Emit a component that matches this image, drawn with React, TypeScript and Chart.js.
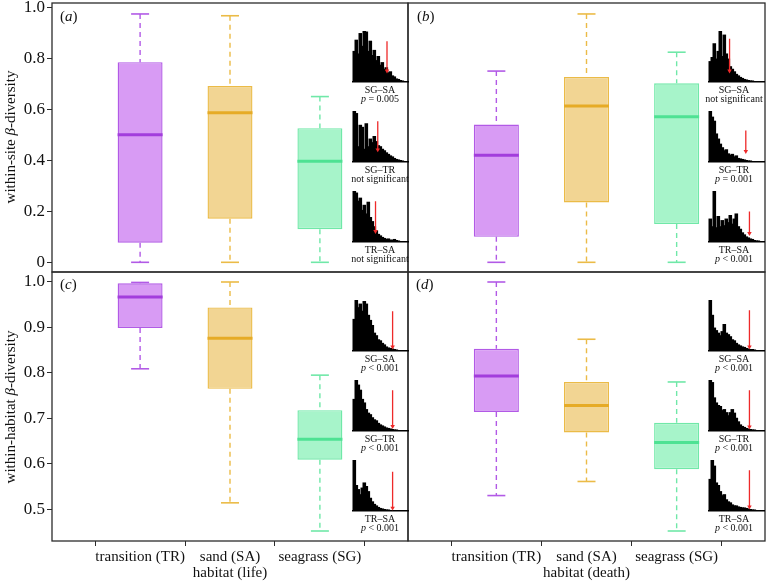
import React, { useEffect, useRef } from 'react';
import { Chart, registerables } from 'chart.js';

Chart.register(...registerables);

const SERIF = '"Liberation Serif", "Times New Roman", Times, serif';
Chart.defaults.font.family = SERIF;
Chart.defaults.color = '#111';

// ---------- data ----------
const categories = ['transition (TR)', 'sand (SA)', 'seagrass (SG)'];
const categoryPositions = [1, 2, 3];
const siteTicks = [0, 0.2, 0.4, 0.6, 0.8, 1.0];
const habitatTicks = [0.5, 0.6, 0.7, 0.8, 0.9, 1.0];

// (a) within-site, life
const siteLifeMin = [0, 0, 0];
const siteLifeQ1 = [0.077, 0.171, 0.13];
const siteLifeMed = [0.5, 0.587, 0.396];
const siteLifeQ3 = [0.785, 0.691, 0.526];
const siteLifeMax = [0.974, 0.967, 0.65];

// (b) within-site, death
const siteDeathMin = [0, 0, 0];
const siteDeathQ1 = [0.1, 0.235, 0.15];
const siteDeathMed = [0.42, 0.613, 0.571];
const siteDeathQ3 = [0.54, 0.727, 0.702];
const siteDeathMax = [0.75, 0.974, 0.824];

// (c) within-habitat, life
const habLifeMin = [0.809, 0.514, 0.452];
const habLifeQ1 = [0.899, 0.765, 0.609];
const habLifeMed = [0.967, 0.876, 0.654];
const habLifeQ3 = [0.997, 0.944, 0.718];
const habLifeMax = [0.999, 1.0, 0.795];

// (d) within-habitat, death
const habDeathMin = [0.53, 0.561, 0.452];
const habDeathQ1 = [0.714, 0.669, 0.588];
const habDeathMed = [0.793, 0.728, 0.647];
const habDeathQ3 = [0.853, 0.78, 0.69];
const habDeathMax = [1.0, 0.874, 0.78];

// null-distribution histograms (relative counts) and observed values
const comparisons = ['SG–SA', 'SG–TR', 'TR–SA'];

const histA1 = [0.6, 0.82, 0.55, 0.95, 0.7, 1.0, 0.98, 0.6, 0.8, 0.52, 0.62, 0.42, 0.5, 0.33, 0.38, 0.25, 0.28, 0.18, 0.2, 0.12, 0.1, 0.06, 0.05, 0.03, 0.02, 0.01, 0.01, 0];
const histA2 = [1.0, 0.95, 0.3, 0.72, 0.68, 0.25, 0.75, 0.3, 0.45, 0.38, 0.5, 0.4, 0.32, 0.3, 0.25, 0.22, 0.18, 0.15, 0.12, 0.1, 0.07, 0.05, 0.04, 0.03, 0.02, 0.01, 0.01, 0];
const histA3 = [1.0, 0.96, 0.8, 0.86, 0.62, 0.72, 0.55, 0.78, 0.48, 0.4, 0.3, 0.22, 0.15, 0.12, 0.09, 0.07, 0.05, 0.06, 0.04, 0.03, 0.05, 0.03, 0.02, 0.01, 0.01, 0, 0, 0];
const histB1 = [0.4, 0.48, 0.75, 0.45, 0.6, 1.0, 0.5, 0.92, 0.55, 0.45, 0.3, 0.25, 0.2, 0.15, 0.12, 0.09, 0.07, 0.05, 0.04, 0.03, 0.02, 0.02, 0.01, 0.01, 0, 0, 0, 0];
const histB2 = [1.0, 0.88, 0.8, 0.55, 0.45, 0.35, 0.28, 0.22, 0.24, 0.16, 0.13, 0.15, 0.1, 0.12, 0.07, 0.06, 0.05, 0.04, 0.03, 0.02, 0.02, 0.01, 0.01, 0, 0, 0, 0, 0];
const histB3 = [0.45, 0.3, 1.0, 0.28, 0.5, 0.3, 0.42, 0.32, 0.45, 0.38, 0.52, 0.35, 0.45, 0.55, 0.3, 0.25, 0.18, 0.14, 0.1, 0.08, 0.06, 0.05, 0.03, 0.02, 0.02, 0.01, 0.01, 0];
const histC1 = [0.62, 1.0, 0.85, 0.92, 0.78, 0.97, 0.92, 0.7, 0.6, 0.5, 0.35, 0.3, 0.22, 0.2, 0.15, 0.12, 0.08, 0.06, 0.05, 0.04, 0.03, 0.02, 0.01, 0.01, 0, 0, 0, 0];
const histC2 = [0.62, 1.0, 0.9, 0.8, 0.62, 0.55, 0.42, 0.35, 0.32, 0.26, 0.22, 0.2, 0.15, 0.12, 0.1, 0.08, 0.06, 0.05, 0.04, 0.03, 0.02, 0.02, 0.01, 0.01, 0, 0, 0, 0];
const histC3 = [1.0, 0.5, 0.42, 0.32, 0.45, 0.55, 0.48, 0.38, 0.25, 0.18, 0.13, 0.1, 0.07, 0.05, 0.04, 0.03, 0.02, 0.02, 0.01, 0.01, 0.01, 0, 0, 0, 0, 0, 0, 0];
const histD1 = [1.0, 0.7, 0.45, 0.4, 0.35, 0.3, 0.38, 0.52, 0.35, 0.32, 0.28, 0.22, 0.2, 0.15, 0.12, 0.1, 0.08, 0.07, 0.05, 0.04, 0.03, 0.03, 0.02, 0.01, 0.01, 0, 0, 0];
const histD2 = [1.0, 0.95, 0.65, 0.55, 0.5, 0.48, 0.4, 0.42, 0.36, 0.3, 0.36, 0.42, 0.35, 0.25, 0.18, 0.12, 0.09, 0.07, 0.05, 0.04, 0.03, 0.02, 0.02, 0.01, 0.01, 0, 0, 0];
const histD3 = [0.62, 1.0, 0.88, 0.55, 0.5, 0.38, 0.3, 0.32, 0.22, 0.18, 0.16, 0.12, 0.1, 0.1, 0.08, 0.07, 0.06, 0.06, 0.05, 0.04, 0.03, 0.02, 0.02, 0.01, 0.01, 0, 0, 0];

const obsA = [0.75, 0.42, 0.34];
const obsB = [0.27, 0.85, 0.98];
const obsC = [0.95, 0.95, 0.95];
const obsD = [0.98, 0.98, 0.98];

const arrowTopA = [0.8, 0.8, 0.8];
const arrowTipA = [0.22, 0.24, 0.21];
const arrowTopB = [0.85, 0.62, 0.6];
const arrowTipB = [0.22, 0.21, 0.17];
const arrowTopC = [0.78, 0.8, 0.77];
const arrowTipC = [0.08, 0.09, 0.06];
const arrowTopD = [0.8, 0.8, 0.8];
const arrowTipD = [0.08, 0.08, 0.08];

const pLabelsA = ['p = 0.005', 'not significant', 'not significant'];
const pLabelsB = ['not significant', 'p = 0.001', 'p < 0.001'];
const pLabelsC = ['p < 0.001', 'p < 0.001', 'p < 0.001'];
const pLabelsD = ['p < 0.001', 'p < 0.001', 'p < 0.001'];

// ---------- styles ----------
const groupFill = ['#d89bf4', '#f2d593', '#a7f4ca'];
const groupLine = ['#b25ae6', '#ebbb47', '#70e8a8'];
const groupMedian = ['#a23ddc', '#e6ab26', '#4ee293'];
const ARROW_RED = '#ee2a2a';
const FRAME = '#2b2b2b';

type Stats = { min: number[]; q1: number[]; med: number[]; q3: number[]; max: number[] };

const framePlugin = {
  id: 'panelFrame',
  afterDraw(chart: any) {
    const { ctx, chartArea: a } = chart;
    ctx.save();
    ctx.strokeStyle = FRAME;
    ctx.lineWidth = 1.3;
    ctx.strokeRect(a.left, a.top, a.right - a.left, a.bottom - a.top);
    ctx.restore();
  },
};

const zeroPadding = (s: any) => {
  s.paddingTop = 0;
  s.paddingBottom = 0;
  s.paddingLeft = 0;
  s.paddingRight = 0;
};

type PanelProps = {
  stats: Stats;
  yMin: number;
  yMax: number;
  ticks: number[];
  showY: boolean;
  xTitle?: string;
  left: number;
  top: number;
  width: number;
  height: number;
  padding: { left: number; right: number; top: number; bottom: number };
  xHeight: number;
};

function BoxPanel(p: PanelProps) {
  const ref = useRef<HTMLCanvasElement | null>(null);
  useEffect(() => {
    const { stats } = p;
    const datasets: any[] = [];
    categoryPositions.forEach((x, i) => {
      datasets.push({
        type: 'line',
        data: [
          { x, y: stats.max[i] },
          { x, y: stats.q3[i] },
          { x, y: null },
          { x, y: stats.q1[i] },
          { x, y: stats.min[i] },
        ],
        borderColor: groupLine[i],
        borderWidth: 1.4,
        borderDash: [5, 4],
        pointRadius: 0,
        spanGaps: false,
        fill: false,
        order: 4,
      });
    });
    datasets.push({
      type: 'scatter',
      data: categoryPositions.flatMap((x, i) => [
        { x, y: stats.max[i] },
        { x, y: stats.min[i] },
      ]),
      pointStyle: 'line',
      pointRadius: 9,
      pointBorderWidth: 1.6,
      pointBorderColor: categoryPositions.flatMap((_, i) => [groupLine[i], groupLine[i]]),
      order: 3,
    });
    datasets.push({
      type: 'bar',
      data: categoryPositions.map((x, i) => ({ x, y: [stats.q1[i], stats.q3[i]] })),
      backgroundColor: groupFill,
      borderColor: groupLine,
      borderWidth: 1.4,
      borderSkipped: false,
      barPercentage: 0.5,
      categoryPercentage: 1,
      grouped: false,
      order: 2,
    });
    datasets.push({
      type: 'scatter',
      data: categoryPositions.map((x, i) => ({ x, y: stats.med[i] })),
      pointStyle: 'line',
      pointRadius: 22.5,
      pointBorderWidth: 3,
      pointBorderColor: groupMedian,
      order: 1,
    });

    const hasX = !!p.xTitle;
    const chart = new Chart(ref.current as HTMLCanvasElement, {
      type: 'scatter',
      data: { datasets },
      options: {
        animation: false,
        responsive: false,
        devicePixelRatio: 1,
        events: [],
        layout: { padding: p.padding, autoPadding: false },
        plugins: { legend: { display: false }, tooltip: { enabled: false } },
        scales: {
          x: {
            type: 'linear',
            min: 0.02,
            max: 3.98,
            offset: false,
            display: hasX,
            afterBuildTicks: (s: any) => {
              s.ticks = categoryPositions.map((v) => ({ value: v }));
            },
            afterFit: (s: any) => {
              if (hasX) s.height = p.xHeight;
              zeroPadding(s);
            },
            grid: { display: true, drawOnChartArea: false, drawTicks: true, tickLength: 5, color: FRAME },
            border: { display: false },
            ticks: {
              autoSkip: false,
              maxRotation: 0,
              minRotation: 0,
              padding: 2,
              font: { size: 15 },
              color: '#111',
              callback: (v: any) => categories[categoryPositions.indexOf(Number(v))],
            },
            title: { display: hasX, text: p.xTitle || '', font: { size: 15 }, color: '#111', padding: 0 },
          },
          y: {
            type: 'linear',
            min: p.yMin,
            max: p.yMax,
            display: p.showY,
            afterBuildTicks: (s: any) => {
              s.ticks = p.ticks.map((v) => ({ value: v }));
            },
            afterFit: (s: any) => {
              if (p.showY) s.width = 52;
              zeroPadding(s);
            },
            grid: { display: true, drawOnChartArea: false, drawTicks: true, tickLength: 5, color: FRAME },
            border: { display: false },
            ticks: {
              padding: 2,
              font: { size: 17 },
              color: '#111',
              callback: (v: any) => (Number(v) === 0 ? '0' : Number(v).toFixed(1)),
            },
          },
        },
      } as any,
      plugins: [framePlugin],
    });
    return () => chart.destroy();
  }, []);
  return (
    <canvas
      ref={ref}
      width={p.width}
      height={p.height}
      style={{ position: 'absolute', left: p.left, top: p.top, width: p.width, height: p.height }}
    />
  );
}

type InsetProps = {
  hist: number[];
  obs: number;
  arrowTop: number;
  arrowTip: number;
  left: number;
  baseline: number;
};

const INSET_W = 56;
const INSET_H = 51;

function Inset(p: InsetProps) {
  const ref = useRef<HTMLCanvasElement | null>(null);
  useEffect(() => {
    const chart = new Chart(ref.current as HTMLCanvasElement, {
      type: 'bar',
      data: {
        labels: p.hist.map((_, i) => String(i)),
        datasets: [
          {
            type: 'line',
            xAxisID: 'x2',
            data: [
              { x: p.obs, y: p.arrowTop },
              { x: p.obs, y: p.arrowTip },
            ],
            borderColor: ARROW_RED,
            borderWidth: 1.3,
            pointRadius: [0, 2.6],
            pointStyle: 'triangle',
            pointRotation: 180,
            pointBackgroundColor: ARROW_RED,
            pointBorderColor: ARROW_RED,
            pointBorderWidth: 0,
            clip: false,
            order: 0,
          } as any,
          {
            type: 'bar',
            data: p.hist,
            backgroundColor: '#000',
            borderWidth: 0,
            inflateAmount: 0.5,
            barThickness: 2.6,
            order: 1,
          } as any,
        ],
      },
      options: {
        animation: false,
        responsive: false,
        devicePixelRatio: 1,
        events: [],
        layout: { padding: { left: 0, right: 4, top: 0, bottom: 1 }, autoPadding: false },
        plugins: { legend: { display: false }, tooltip: { enabled: false } },
        scales: {
          x: {
            type: 'category',
            offset: true,
            display: true,
            grid: { display: false, drawTicks: false },
            ticks: { display: false },
            border: { display: true, color: '#000', width: 1.6 },
            afterFit: (s: any) => {
              s.height = 0;
              zeroPadding(s);
            },
          },
          x2: { type: 'linear', min: 0, max: 1, display: false },
          y: { type: 'linear', min: 0, max: 1, display: false },
        },
      } as any,
    });
    return () => chart.destroy();
  }, []);
  return (
    <canvas
      ref={ref}
      width={INSET_W + 4}
      height={INSET_H + 1}
      style={{
        position: 'absolute',
        left: p.left,
        top: p.baseline - INSET_H,
        width: INSET_W + 4,
        height: INSET_H + 1,
      }}
    />
  );
}

function PText({ text }: { text: string }) {
  if (text.startsWith('p ')) {
    return (
      <>
        <i>p</i>
        {text.slice(1)}
      </>
    );
  }
  return <>{text}</>;
}

function InsetLabel({ cx, baseline, comp, pText }: { cx: number; baseline: number; comp: string; pText: string }) {
  const line = (y: number, content: React.ReactNode) => (
    <div
      style={{
        position: 'absolute',
        left: cx,
        top: y,
        transform: 'translate(-50%, -50%)',
        fontSize: 10,
        lineHeight: 1,
        whiteSpace: 'nowrap',
        color: '#111',
      }}
    >
      {content}
    </div>
  );
  return (
    <>
      {line(baseline + 8, comp)}
      {line(baseline + 17, <PText text={pText} />)}
    </>
  );
}

const siteLife: Stats = { min: siteLifeMin, q1: siteLifeQ1, med: siteLifeMed, q3: siteLifeQ3, max: siteLifeMax };
const siteDeath: Stats = { min: siteDeathMin, q1: siteDeathQ1, med: siteDeathMed, q3: siteDeathQ3, max: siteDeathMax };
const habLife: Stats = { min: habLifeMin, q1: habLifeQ1, med: habLifeMed, q3: habLifeQ3, max: habLifeMax };
const habDeath: Stats = { min: habDeathMin, q1: habDeathQ1, med: habDeathMed, q3: habDeathQ3, max: habDeathMax };

const topBaselines = [82, 162, 242];
const bottomBaselines = [351, 431, 511];

const insetGroups = [
  { left: 352, labelX: 380, baselines: topBaselines, hists: [histA1, histA2, histA3], obs: obsA, tops: arrowTopA, tips: arrowTipA, labels: pLabelsA },
  { left: 708, labelX: 734, baselines: topBaselines, hists: [histB1, histB2, histB3], obs: obsB, tops: arrowTopB, tips: arrowTipB, labels: pLabelsB },
  { left: 352, labelX: 380, baselines: bottomBaselines, hists: [histC1, histC2, histC3], obs: obsC, tops: arrowTopC, tips: arrowTipC, labels: pLabelsC },
  { left: 708, labelX: 734, baselines: bottomBaselines, hists: [histD1, histD2, histD3], obs: obsD, tops: arrowTopD, tips: arrowTipD, labels: pLabelsD },
];

const panelLetter = (letter: string, left: number, top: number) => (
  <div
    style={{
      position: 'absolute',
      left,
      top,
      transform: 'translateY(-50%)',
      fontSize: 15,
      lineHeight: 1,
      color: '#111',
      whiteSpace: 'nowrap',
    }}
  >
    (<i>{letter}</i>)
  </div>
);

const yTitle = (content: React.ReactNode, cy: number) => (
  <div
    style={{
      position: 'absolute',
      left: 10,
      top: cy,
      transform: 'translate(-50%, -50%) rotate(-90deg)',
      fontSize: 15,
      lineHeight: 1,
      whiteSpace: 'nowrap',
      color: '#111',
    }}
  >
    {content}
  </div>
);

export default function App() {
  const leftPad = { left: 0, right: 2, top: 3, bottom: 2 };
  const rightPad = { left: 2, right: 3, top: 3, bottom: 2 };
  const leftPadB = { left: 0, right: 2, top: 3, bottom: 0 };
  const rightPadB = { left: 2, right: 3, top: 3, bottom: 0 };
  return (
    <div
      style={{
        position: 'fixed',
        left: 0,
        top: 0,
        width: 768,
        height: 582,
        background: '#fff',
        overflow: 'hidden',
        fontFamily: SERIF,
      }}
    >
      <BoxPanel stats={siteLife} yMin={-0.038} yMax={1.017} ticks={siteTicks} showY left={0} top={0} width={410} height={274} padding={leftPad} xHeight={0} />
      <BoxPanel stats={siteDeath} yMin={-0.038} yMax={1.017} ticks={siteTicks} showY={false} left={406} top={0} width={362} height={274} padding={rightPad} xHeight={0} />
      <BoxPanel stats={habLife} yMin={0.43} yMax={1.022} ticks={habitatTicks} showY xTitle="habitat (life)" left={0} top={269} width={410} height={313} padding={leftPadB} xHeight={41} />
      <BoxPanel stats={habDeath} yMin={0.43} yMax={1.022} ticks={habitatTicks} showY={false} xTitle="habitat (death)" left={406} top={269} width={362} height={313} padding={rightPadB} xHeight={41} />

      {insetGroups.map((g, gi) =>
        g.hists.map((h, k) => (
          <Inset
            key={`inset-${gi}-${k}`}
            hist={h}
            obs={g.obs[k]}
            arrowTop={g.tops[k]}
            arrowTip={g.tips[k]}
            left={g.left}
            baseline={g.baselines[k]}
          />
        ))
      )}
      {insetGroups.map((g, gi) =>
        comparisons.map((c, k) => (
          <InsetLabel key={`lab-${gi}-${k}`} cx={g.labelX} baseline={g.baselines[k]} comp={c} pText={g.labels[k]} />
        ))
      )}

      {panelLetter('a', 60, 16)}
      {panelLetter('b', 417, 16)}
      {panelLetter('c', 60, 284)}
      {panelLetter('d', 416, 284)}

      {yTitle(<>within-site <i>β</i>-diversity</>, 137)}
      {yTitle(<>within-habitat <i>β</i>-diversity</>, 407)}
    </div>
  );
}
